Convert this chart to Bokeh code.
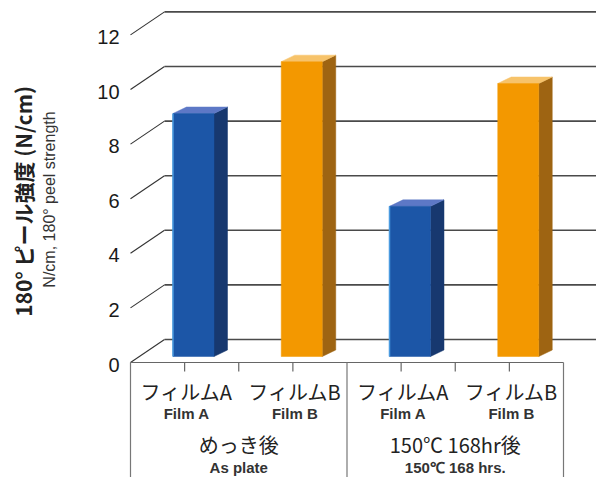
import numpy as np
from bokeh.plotting import figure
from bokeh.models import Range1d
from bokeh.core.properties import value
from bokeh.embed import file_html
from bokeh.resources import INLINE

# ---------------- data ----------------
film_jp = ["フィルムA", "フィルムB", "フィルムA", "フィルムB"]
film_en = ["Film A", "Film B", "Film A", "Film B"]
group_jp = ["めっき後", "150℃ 168hr後"]
group_en = ["As plate", "150℃ 168 hrs."]
peel_strength = [8.9, 10.8, 5.5, 10.0]          # N/cm
bar_slot = [1, 3, 5, 7]                         # category slot of each bar
group_center = [2, 6]
slot_ticks = [1, 2, 3, 5, 6, 7]
group_edges = [0, 4, 8]
y_ticks = [0, 2, 4, 6, 8, 10, 12]
y_tick_labels = ["0", "2", "4", "6", "8", "10", "12"]
title_jp = "180° ピール強度 (N/cm)"
title_en = "N/cm, 180° peel strength"

# ---------------- styles / geometry ----------------
W, H = 596, 477
X0_PX, SLOT_PX = 130.0, 54.125      # slot 0 at pixel 130
Y0_PX, UNIT_PX = 362.0, 27.3        # value 0 (front plane) at pixel 362
DX = 34.0 / SLOT_PX                 # depth of floor (x)
DY = 23.0 / UNIT_PX                 # depth of floor (y)
BAR_DEPTH = 6.0 / 23.0              # bar front face depth fraction
BAR_W = 41.0 / SLOT_PX
SIDE_DX = 13.5 / SLOT_PX
SIDE_DY = 6.5 / UNIT_PX

front_col = ["#1c56a7", "#f39800", "#1c56a7", "#f39800"]
side_col = ["#17386f", "#9e6412", "#17386f", "#9e6412"]
top_col = ["#5d78c6", "#f7c36a", "#5d78c6", "#f7c36a"]

JP = value("Noto Sans CJK JP")
LAT = value("Liberation Sans")

p = figure(width=W, height=H, output_backend="svg", toolbar_location=None,
           x_range=Range1d(-X0_PX / SLOT_PX, (W - X0_PX) / SLOT_PX),
           y_range=Range1d(-(H - Y0_PX) / UNIT_PX, Y0_PX / UNIT_PX),
           x_axis_type=None, y_axis_type=None, min_border=0)
p.grid.visible = False
p.outline_line_color = None
p.background_fill_color = "white"
p.border_fill_color = "white"

x_right = (W - X0_PX) / SLOT_PX + 1

# back gridlines + left diagonal connectors
p.multi_line(xs=[[0, DX] for v in y_ticks], ys=[[v, v + DY] for v in y_ticks],
             line_color="#333333", line_width=1.1)
p.multi_line(xs=[[DX, x_right] for v in y_ticks], ys=[[v + DY, v + DY] for v in y_ticks],
             line_color="#4a4a4a", line_width=1.6)

# floor front edge, group box, slot ticks
p.segment(x0=[group_edges[0]], y0=[0], x1=[group_edges[-1]], y1=[0],
          line_color="#666666", line_width=1.2)
p.segment(x0=group_edges, y0=[0] * len(group_edges), x1=group_edges,
          y1=[-(H - Y0_PX) / UNIT_PX - 1] * len(group_edges),
          line_color="#777777", line_width=1.2)
p.segment(x0=slot_ticks, y0=[0] * len(slot_ticks), x1=slot_ticks,
          y1=[-9.0 / UNIT_PX] * len(slot_ticks), line_color="#666666", line_width=1.2)

# 3-D bars
fxs, fys, sxs, sys_, txs, tys = [], [], [], [], [], []
for s, v in zip(bar_slot, peel_strength):
    xc = s + BAR_DEPTH * DX
    b = BAR_DEPTH * DY
    t = b + v
    x0, x1 = xc - BAR_W / 2, xc + BAR_W / 2
    fxs.append([x0, x1, x1, x0]); fys.append([b, b, t, t])
    sxs.append([x1, x1 + SIDE_DX, x1 + SIDE_DX, x1])
    sys_.append([b, b + SIDE_DY, t + SIDE_DY, t])
    txs.append([x0, x1, x1 + SIDE_DX, x0 + SIDE_DX])
    tys.append([t, t, t + SIDE_DY, t + SIDE_DY])
p.patches(xs=sxs, ys=sys_, fill_color=side_col, line_color=side_col, line_width=0.5)
p.patches(xs=txs, ys=tys, fill_color=top_col, line_color=top_col, line_width=0.5)
p.patches(xs=fxs, ys=fys, fill_color=front_col, line_color=front_col, line_width=0.5)
# light edge on the blue bars
blue = [i for i, c in enumerate(front_col) if c == "#1c56a7"]
p.segment(x0=[fxs[i][0] for i in blue], y0=[fys[i][0] for i in blue],
          x1=[fxs[i][0] for i in blue], y1=[fys[i][2] for i in blue],
          line_color="#4a9be0", line_width=1.5)

# y tick labels
p.text(x=[-11.0 / SLOT_PX] * len(y_ticks), y=y_ticks, text=y_tick_labels,
       text_font=LAT, text_font_size="20px", text_align="right",
       text_baseline="middle", text_color="#1a1a1a", y_offset=2)

# category labels
p.text(x=[s for s in bar_slot], y=[-(391 - Y0_PX) / UNIT_PX] * 4, text=film_jp,
       text_font=JP, text_font_size="20px", text_align="center",
       text_baseline="middle", text_color="#222222", x_offset=2)
p.text(x=[s for s in bar_slot], y=[-(413 - Y0_PX) / UNIT_PX] * 4, text=film_en,
       text_font=LAT, text_font_size="15px", text_font_style="bold",
       text_align="center", text_baseline="middle", text_color="#333333", x_offset=2)
p.text(x=group_center, y=[-(444 - Y0_PX) / UNIT_PX] * 2, text=group_jp,
       text_font=JP, text_font_size="20px", text_align="center",
       text_baseline="middle", text_color="#222222")
p.text(x=group_center, y=[-(467 - Y0_PX) / UNIT_PX] * 2, text=group_en,
       text_font=LAT, text_font_size="15px", text_font_style="bold",
       text_align="center", text_baseline="middle", text_color="#333333")

# y-axis titles (rotated)
p.text(x=[(22 - X0_PX) / SLOT_PX], y=[(Y0_PX - 201) / UNIT_PX], text=[title_jp],
       text_font=JP, text_font_size="21px", text_font_style="bold",
       text_align="center", text_baseline="middle", text_color="#222222",
       angle=np.pi / 2)
p.text(x=[(49 - X0_PX) / SLOT_PX], y=[(Y0_PX - 199) / UNIT_PX], text=[title_en],
       text_font=LAT, text_font_size="16px", text_align="center",
       text_baseline="middle", text_color="#333333", angle=np.pi / 2)

open("out.html", "w").write(file_html(p, INLINE))
